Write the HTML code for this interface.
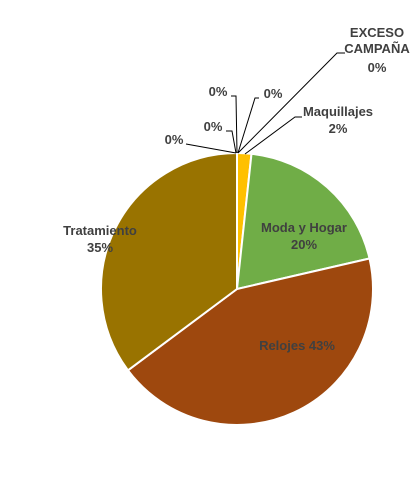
<!DOCTYPE html>
<html><head><meta charset="utf-8"><style>
html,body{margin:0;padding:0;background:#fff}
svg{display:block}
text{font-family:"Liberation Sans",Arial,sans-serif;font-weight:bold;font-size:13px;fill:#404040}
</style></head><body>
<svg id="chart" width="410" height="490">
<g id="slices"></g>
<g id="leaders" stroke="#000" stroke-width="1" fill="none">
<polyline points="238,153 337,53 345,53"/>
<polyline points="245,154 295,117 302,117"/>
<polyline points="238,153 255,98 259,98"/>
<polyline points="237,153 236,96 231,96"/>
<polyline points="236,153 232,131 226,131"/>
<polyline points="236,153 186,144"/>
</g>
<g>
<text x="377" y="37" text-anchor="middle">EXCESO</text>
<text x="377" y="53" text-anchor="middle">CAMPAÑA</text>
<text x="377" y="72" text-anchor="middle">0%</text>
<text x="338" y="116" text-anchor="middle">Maquillajes</text>
<text x="338" y="133" text-anchor="middle">2%</text>
<text x="273" y="98" text-anchor="middle">0%</text>
<text x="218" y="96" text-anchor="middle">0%</text>
<text x="213" y="131" text-anchor="middle">0%</text>
<text x="174" y="144" text-anchor="middle">0%</text>
<text x="304" y="232" text-anchor="middle">Moda y Hogar</text>
<text x="304" y="249" text-anchor="middle">20%</text>
<text x="297" y="350" text-anchor="middle">Relojes 43%</text>
<text x="100" y="235" text-anchor="middle">Tratamiento</text>
<text x="100" y="252" text-anchor="middle">35%</text>
</g>
</svg>
<script>
const categories = ["Maquillajes","Moda y Hogar","Relojes","Tratamiento","Otro 1","Otro 2","Otro 3","Otro 4","Exceso Campaña"];
const values = [1.7,19.7,43.4,35.2,0,0,0,0,0];
const colors = ["#FFC000","#70AD47","#9E480E","#997300","#5B9BD5","#ED7D31","#A5A5A5","#4472C4","#264478"];
const cx=237, cy=289, r=136;
const total = values.reduce((a,b)=>a+b,0);
const g = document.getElementById('slices');
let acc = 0;
function pt(f){const a=f*2*Math.PI;return [cx+r*Math.sin(a), cy-r*Math.cos(a)];}
values.forEach((v,i)=>{
  if(v<=0) return;
  const f0=acc/total, f1=(acc+v)/total; acc+=v;
  const p0=pt(f0), p1=pt(f1);
  const large=(f1-f0)>0.5?1:0;
  const p=document.createElementNS('http://www.w3.org/2000/svg','path');
  p.setAttribute('d',`M${cx},${cy} L${p0[0]},${p0[1]} A${r},${r} 0 ${large} 1 ${p1[0]},${p1[1]} Z`);
  p.setAttribute('fill',colors[i]);
  p.setAttribute('stroke','#fff');
  p.setAttribute('stroke-width','2');
  
  
  g.appendChild(p);
});
</script>
</body></html>
